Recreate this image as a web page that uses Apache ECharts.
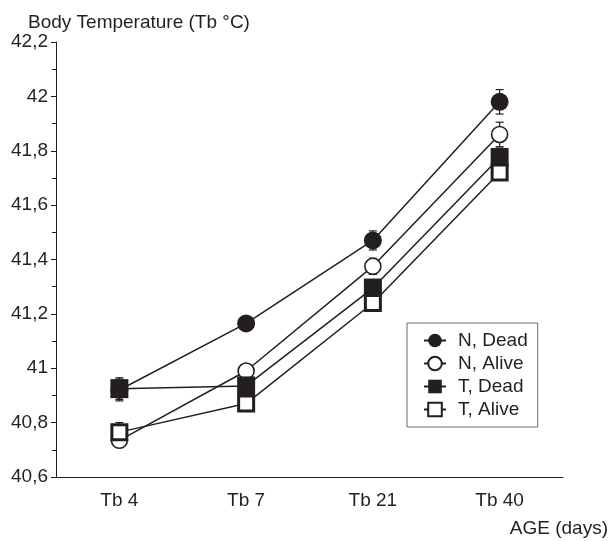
<!DOCTYPE html>
<html>
<head>
<meta charset="utf-8">
<script src="https://cdn.jsdelivr.net/npm/echarts@6/dist/echarts.min.js"></script>
<style>html,body{margin:0;padding:0;background:#fff;}#c{width:611px;height:541px;}</style>
</head>
<body>
<div id="c"></div>
<script>
const categories = ['Tb 4', 'Tb 7', 'Tb 21', 'Tb 40'];
const nDead  = [40.92, 41.165, 41.47, 41.98];
const nAlive = [40.735, 40.99, 41.375, 41.86];
const tDead  = [40.925, 40.935, 41.295, 41.775];
const tAlive = [40.765, 40.87, 41.24, 41.72];
const nDeadErr  = [0.04, 0.02, 0.035, 0.045];
const nAliveErr = [0.02, 0.02, 0.03, 0.045];
const tDeadErr  = [0.04, 0.02, 0.03, 0.035];
const tAliveErr = [0.035, 0.02, 0.02, 0.02];
const yTicks = [40.6, 40.8, 41, 41.2, 41.4, 41.6, 41.8, 42, 42.2];

const INK = '#231f20';
const FONT = '"Liberation Sans", Arial, Helvetica, sans-serif';
const FS = 19;

function errSeries(vals, errs) {
  return {
    type: 'custom',
    silent: true,
    z: 1,
    data: vals.map((v, i) => [i, v - errs[i], v + errs[i]]),
    renderItem: function (params, api) {
      const lo = api.coord([api.value(0), api.value(1)]);
      const hi = api.coord([api.value(0), api.value(2)]);
      const w = 4;
      const st = { stroke: INK, lineWidth: 1.2 };
      return {
        type: 'group',
        children: [
          { type: 'line', shape: { x1: lo[0], y1: lo[1], x2: hi[0], y2: hi[1] }, style: st },
          { type: 'line', shape: { x1: hi[0] - w, y1: hi[1], x2: hi[0] + w, y2: hi[1] }, style: st },
          { type: 'line', shape: { x1: lo[0] - w, y1: lo[1], x2: lo[0] + w, y2: lo[1] }, style: st }
        ]
      };
    }
  };
}

function lineSeries(name, data, symbol, size, fill, bw, z) {
  return {
    name: name,
    type: 'line',
    data: data,
    symbol: symbol,
    symbolSize: size,
    showAllSymbol: true,
    z: z,
    lineStyle: { color: INK, width: 1.5 },
    itemStyle: { color: fill, borderColor: INK, borderWidth: bw },
    emphasis: { disabled: true }
  };
}

const chart = echarts.init(document.getElementById('c'), null, { renderer: 'canvas' });
chart.setOption({
  animation: false,
  backgroundColor: '#fff',
  textStyle: { fontFamily: FONT, color: INK },
  grid: { left: 56, right: 48, top: 42, bottom: 64 },
  title: [
    { text: 'Body Temperature (Tb °C)', left: 23, top: 8,
      textStyle: { fontFamily: FONT, fontSize: FS, fontWeight: 'normal', color: INK } },
    { text: 'AGE (days)', right: -2, top: 514,
      textStyle: { fontFamily: FONT, fontSize: FS, fontWeight: 'normal', color: INK } }
  ],
  legend: {
    orient: 'vertical',
    left: 407, top: 323,
    width: 130,
    padding: [8, 10, 8, 16],
    itemGap: 4,
    itemWidth: 22, itemHeight: 17,
    borderColor: '#6d6d6d', borderWidth: 1,
    textStyle: { fontFamily: FONT, fontSize: FS, color: INK, padding: [0, 0, 0, 7] },
    data: ['N, Dead', 'N, Alive', 'T, Dead', 'T, Alive']
  },
  xAxis: {
    type: 'category',
    data: categories,
    boundaryGap: true,
    axisLine: { lineStyle: { color: INK, width: 1 } },
    axisTick: { alignWithLabel: true, length: 4, lineStyle: { color: INK } },
    axisLabel: { fontFamily: FONT, fontSize: FS, color: INK, margin: 14 }
  },
  yAxis: {
    type: 'value',
    min: 40.6, max: 42.2, interval: 0.2,
    splitLine: { show: false },
    axisLine: { show: true, lineStyle: { color: INK, width: 1 } },
    axisTick: { show: true, length: 5, lineStyle: { color: INK } },
    minorTick: { show: true, splitNumber: 2, length: 4, lineStyle: { color: INK } },
    axisLabel: {
      fontFamily: FONT, fontSize: FS, color: INK, margin: 8,
      formatter: function (v) {
        const t = yTicks.find(x => Math.abs(x - v) < 1e-6);
        return String(+(t !== undefined ? t : v).toFixed(1)).replace('.', ',');
      }
    }
  },
  series: [
    errSeries(nDead, nDeadErr),
    errSeries(nAlive, nAliveErr),
    errSeries(tDead, tDeadErr),
    errSeries(tAlive, tAliveErr),
    lineSeries('N, Dead', nDead, 'circle', 18, INK, 0, 2),
    lineSeries('N, Alive', nAlive, 'circle', 16, '#fff', 1.6, 3),
    lineSeries('T, Dead', tDead, 'rect', [18, 19], INK, 0, 4),
    lineSeries('T, Alive', tAlive, 'rect', 15, '#fff', 3, 5)
  ]
});
</script>
</body>
</html>
